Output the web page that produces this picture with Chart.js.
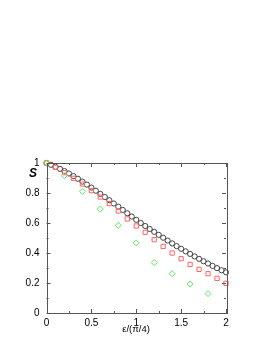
<!DOCTYPE html>
<html>
<head>
<meta charset="utf-8">
<script src="https://cdn.jsdelivr.net/npm/chart.js@4.4.1/dist/chart.umd.min.js"></script>
<style>
  body { margin: 0; background: #fff; }
  canvas { display: block; }
</style>
</head>
<body>
<canvas id="chart" width="273" height="353"></canvas>
<script>
// data
const xBlack = [0, 0.05, 0.1, 0.15, 0.2, 0.25, 0.3, 0.35, 0.4, 0.45, 0.5, 0.55, 0.6, 0.65, 0.7, 0.75, 0.8, 0.85, 0.9, 0.95,
  1, 1.05, 1.1, 1.15, 1.2, 1.25, 1.3, 1.35, 1.4, 1.45, 1.5, 1.55, 1.6, 1.65, 1.7, 1.75, 1.8, 1.85, 1.9, 1.95, 2];
const sBlack = [1.000, 0.988, 0.975, 0.961, 0.946, 0.930, 0.913, 0.895, 0.876, 0.856, 0.836, 0.815, 0.794, 0.773, 0.752, 0.730,
  0.709, 0.687, 0.665, 0.643, 0.621, 0.600, 0.580, 0.560, 0.541, 0.521, 0.502, 0.483, 0.464, 0.446, 0.428, 0.411, 0.394,
  0.377, 0.361, 0.345, 0.330, 0.314, 0.299, 0.285, 0.271];

const xRed = [0, 0.1, 0.2, 0.3, 0.4, 0.5, 0.6, 0.7, 0.8, 0.9, 1, 1.1, 1.2, 1.3, 1.4, 1.5, 1.6, 1.7, 1.8, 1.9, 2];
const sRed = [1.000, 0.971, 0.936, 0.898, 0.860, 0.816, 0.773, 0.729, 0.680, 0.627, 0.580, 0.538, 0.489, 0.444, 0.400,
  0.362, 0.324, 0.291, 0.262, 0.231, 0.198];

const xGreen = [0, 0.2, 0.4, 0.6, 0.8, 1, 1.2, 1.4, 1.6, 1.8];
const sGreen = [1.000, 0.916, 0.811, 0.693, 0.584, 0.467, 0.336, 0.262, 0.193, 0.129];

const toPts = (xs, ys) => xs.map((x, i) => ({x: x, y: ys[i]}));
const fmt = (v) => String(Math.round(v * 100) / 100);

const FONT = "'Liberation Sans', Arial, sans-serif";

// gnuplot-like frame with inward ticks, plus the axis titles
const framePlugin = {
  id: 'frame',
  afterDraw(chart) {
    const ctx = chart.ctx;
    const a = chart.chartArea;
    const xs = chart.scales.x, ys = chart.scales.y;
    ctx.save();
    ctx.strokeStyle = '#555';
    ctx.lineWidth = 1;
    ctx.strokeRect(Math.round(a.left) + 0.5, Math.round(a.top) + 0.5, Math.round(a.right - a.left), Math.round(a.bottom - a.top));
    ctx.beginPath();
    for (let v = 0; v <= 2.0001; v += 0.25) {
      const px = Math.round(xs.getPixelForValue(v)) + 0.5;
      const len = (Math.abs(v * 2 - Math.round(v * 2)) < 1e-6) ? 4 : 2;
      ctx.moveTo(px, a.bottom); ctx.lineTo(px, a.bottom - len);
      ctx.moveTo(px, a.top); ctx.lineTo(px, a.top + len);
    }
    for (let v = 0; v <= 1.0001; v += 0.1) {
      const py = Math.round(ys.getPixelForValue(v)) + 0.5;
      const len = (Math.round(v * 10) % 2 === 0) ? 4 : 2;
      ctx.moveTo(a.left, py); ctx.lineTo(a.left + len, py);
      ctx.moveTo(a.right, py); ctx.lineTo(a.right - len, py);
    }
    ctx.stroke();

    ctx.fillStyle = '#000';
    ctx.font = 'italic bold 12px ' + FONT;
    ctx.textAlign = 'center';
    ctx.textBaseline = 'middle';
    ctx.fillText('S', 33, 174);
    ctx.font = '9.5px ' + FONT;
    ctx.fillText('\u03b5/(\u03c0/4)', 136, 329);
    ctx.restore();
  }
};

new Chart(document.getElementById('chart'), {
  type: 'scatter',
  data: {
    datasets: [
      {
        label: 'green',
        data: toPts(xGreen, sGreen),
        pointStyle: 'rectRot',
        pointRadius: 3,
        pointBorderWidth: 1,
        borderColor: '#5ee65e',
        backgroundColor: 'rgba(0,0,0,0)',
        clip: false
      },
      {
        label: 'red',
        data: toPts(xRed, sRed),
        pointStyle: 'rect',
        pointRadius: 3,
        pointBorderWidth: 1,
        borderColor: '#ff6464',
        backgroundColor: 'rgba(0,0,0,0)',
        clip: false
      },
      {
        label: 'black',
        data: toPts(xBlack, sBlack),
        pointStyle: 'circle',
        pointRadius: 2.6,
        pointBorderWidth: 1,
        borderColor: '#444',
        backgroundColor: 'rgba(0,0,0,0)',
        clip: false
      }
    ]
  },
  options: {
    responsive: false,
    animation: false,
    layout: { padding: { left: 0, right: 47, top: 163, bottom: 0 } },
    plugins: { legend: { display: false }, tooltip: { enabled: false } },
    scales: {
      x: {
        type: 'linear',
        min: 0, max: 2,
        afterFit: (s) => { s.height = 40; },
        grid: { display: false, drawTicks: false },
        border: { display: false },
        ticks: { stepSize: 0.5, padding: 4, color: '#000', font: { family: FONT, size: 10 }, maxRotation: 0, callback: fmt }
      },
      y: {
        type: 'linear',
        min: 0, max: 1,
        afterFit: (s) => { s.width = 46.5; },
        grid: { display: false, drawTicks: false },
        border: { display: false },
        ticks: { stepSize: 0.2, padding: 7, color: '#000', font: { family: FONT, size: 10 }, callback: fmt }
      }
    }
  },
  plugins: [framePlugin]
});
</script>
</body>
</html>
